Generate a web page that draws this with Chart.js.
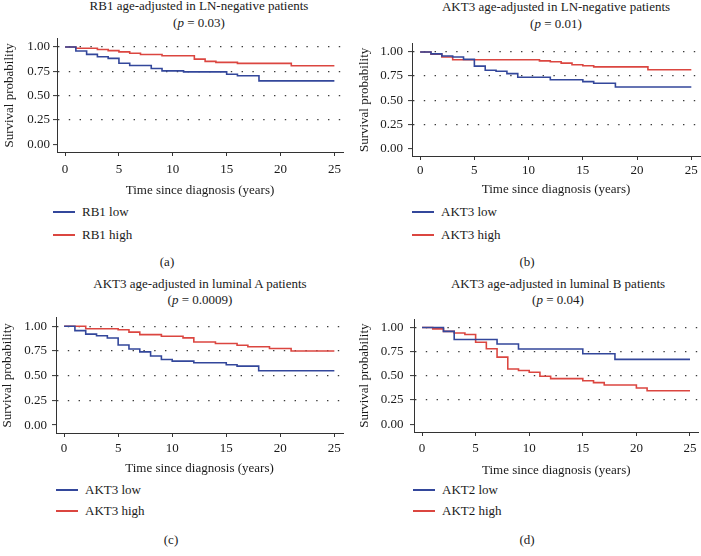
<!DOCTYPE html>
<html>
<head>
<meta charset="utf-8">
<script src="https://cdn.jsdelivr.net/npm/chart.js@4.4.0/dist/chart.umd.min.js"></script>
<style>
    body { margin: 0; background: #fff; }
    #page { position: relative; width: 701px; height: 556px; overflow: hidden; background: #fff;
            font-family: "Liberation Serif", "Times New Roman", serif; color: #1a1a1a; }
    #page canvas { position: absolute; }
    .title, .cap, .leg-text { position: absolute; font-size: 13px; white-space: nowrap; }
    .title { width: 350px; text-align: center; line-height: 16.5px; }
    .cap { width: 40px; text-align: center; line-height: 16px; }
    .leg-text { line-height: 16px; }
    .leg-line { position: absolute; height: 2px; width: 22px; }
</style>
</head>
<body>
<div id="page"></div>
<script>
// tick labels shared by all four panels
const xTicks = [0, 5, 10, 15, 20, 25];
const yTicks = [0, 0.25, 0.5, 0.75, 1];

// (a) RB1, LN-negative
const rb1LowYears = [0, 1, 2, 3, 4, 5, 6, 8, 9, 11, 15, 16, 18, 25];
const rb1LowSurv = [1, 0.96, 0.925, 0.90, 0.884, 0.833, 0.81, 0.78, 0.755, 0.745, 0.72, 0.704, 0.652, 0.652];
const rb1HighYears = [0, 1, 3, 4, 5, 6, 7, 9, 12, 13, 14, 16, 21, 25];
const rb1HighSurv = [1, 0.988, 0.975, 0.963, 0.95, 0.937, 0.924, 0.91, 0.876, 0.853, 0.842, 0.832, 0.807, 0.807];

// (b) AKT3, LN-negative
const akt3NegLowYears = [0, 1, 2, 3, 4, 5, 6, 7, 8, 9, 12, 15, 16, 18, 25];
const akt3NegLowSurv = [1, 0.98, 0.958, 0.948, 0.923, 0.853, 0.81, 0.80, 0.775, 0.737, 0.712, 0.692, 0.675, 0.636, 0.636];
const akt3NegHighYears = [0, 1, 2, 3, 11, 12, 13, 14, 15, 16, 21, 25];
const akt3NegHighSurv = [1, 0.978, 0.948, 0.92, 0.908, 0.898, 0.884, 0.868, 0.857, 0.845, 0.815, 0.815];

// (c) AKT3, luminal A
const akt3LumALowYears = [0, 1, 2, 3, 4, 5, 6, 7, 8, 9, 10, 12, 15, 16, 18, 25];
const akt3LumALowSurv = [1, 0.955, 0.92, 0.904, 0.88, 0.81, 0.77, 0.74, 0.698, 0.664, 0.647, 0.63, 0.61, 0.596, 0.55, 0.55];
const akt3LumAHighYears = [0, 2, 5, 6, 7, 9, 11, 12, 14, 16, 17, 19, 21, 25];
const akt3LumAHighSurv = [1, 0.974, 0.964, 0.94, 0.915, 0.898, 0.882, 0.84, 0.825, 0.808, 0.792, 0.775, 0.749, 0.749];

// (d) AKT2, luminal B
const akt2LumBLowYears = [0, 2, 3, 7, 9, 15, 18, 25];
const akt2LumBLowSurv = [1, 0.96, 0.876, 0.829, 0.778, 0.729, 0.671, 0.671];
const akt2LumBHighYears = [0, 1, 2, 3, 4, 5, 6, 7, 8, 9, 10, 11, 12, 15, 16, 17, 20, 21, 25];
const akt2LumBHighSurv = [1, 0.986, 0.96, 0.944, 0.928, 0.847, 0.78, 0.694, 0.572, 0.555, 0.537, 0.496, 0.472, 0.45, 0.43, 0.406, 0.375, 0.347, 0.347];

const lowColor = "#33479b";
const highColor = "#db4640";
const axisColor = "#333";

Chart.defaults.font.family = '"Liberation Serif", "Times New Roman", serif';
Chart.defaults.font.size = 13;
Chart.defaults.color = "#1a1a1a";

// panel layout: box = canvas, area = wanted chart area, the rest is text placement
const panels = [
    {
        title: "RB1 age-adjusted in LN-negative patients", pValue: "0.03", tag: "(a)",
        labels: ["RB1 low", "RB1 high"],
        low: [rb1LowYears, rb1LowSurv], high: [rb1HighYears, rb1HighSurv],
        box: { x: 0, y: 28, w: 350, h: 172 }, area: { l: 57, t: 35, r: 343, b: 152 },
        titleX: 199, titleY: -2, legX: 53, legY: [212, 235], capX: 167, capY: 262,
        yTitlePad: 2, yTickPad: 3, xTickPad: 6, xTitlePad: 1.5
    },
    {
        title: "AKT3 age-adjusted in LN-negative patients", pValue: "0.01", tag: "(b)",
        labels: ["AKT3 low", "AKT3 high"],
        low: [akt3NegLowYears, akt3NegLowSurv], high: [akt3NegHighYears, akt3NegHighSurv],
        box: { x: 350, y: 31, w: 351, h: 170 }, area: { l: 412, t: 39, r: 700, b: 156 },
        titleX: 556, titleY: -1, legX: 412, legY: [212, 235], capX: 527, capY: 262,
        yTitlePad: 7, yTickPad: 5, xTickPad: 3, xTitlePad: 3.5
    },
    {
        title: "AKT3 age-adjusted in luminal A patients", pValue: "0.0009", tag: "(c)",
        labels: ["AKT3 low", "AKT3 high"],
        low: [akt3LumALowYears, akt3LumALowSurv], high: [akt3LumAHighYears, akt3LumAHighSurv],
        box: { x: 0, y: 305, w: 350, h: 174 }, area: { l: 56, t: 315, r: 343, b: 433 },
        titleX: 200, titleY: 275.5, legX: 56, legY: [490, 511], capX: 171, capY: 539.7,
        yTitlePad: 0, yTickPad: 5, xTickPad: 4, xTitlePad: 2.5
    },
    {
        title: "AKT3 age-adjusted in luminal B patients", pValue: "0.04", tag: "(d)",
        labels: ["AKT2 low", "AKT2 high"],
        low: [akt2LumBLowYears, akt2LumBLowSurv], high: [akt2LumBHighYears, akt2LumBHighSurv],
        box: { x: 350, y: 305, w: 351, h: 175 }, area: { l: 414, t: 315, r: 700, b: 432 },
        titleX: 558, titleY: 275.5, legX: 413, legY: [490, 511], capX: 527, capY: 539.7,
        yTitlePad: 7, yTickPad: 6.5, xTickPad: 4.5, xTitlePad: 2
    }
];

const toPoints = ([years, surv]) => years.map((t, i) => ({ x: t, y: surv[i] }));

function addText(cls, left, top, html) {
    const el = document.createElement("div");
    el.className = cls;
    el.style.left = left + "px";
    el.style.top = top + "px";
    el.innerHTML = html;
    document.getElementById("page").appendChild(el);
    return el;
}

function addPanel(p) {
    const page = document.getElementById("page");

    addText("title", p.titleX - 175, p.titleY, `${p.title}<br>(<i>p</i> = ${p.pValue})`);
    addText("cap", p.capX - 20, p.capY - 8, p.tag);

    // legend below the axis, one row per group
    [lowColor, highColor].forEach((color, i) => {
        const line = document.createElement("div");
        line.className = "leg-line";
        line.style.left = p.legX + "px";
        line.style.top = Math.round(p.legY[i] - 1) + "px";
        line.style.background = color;
        page.appendChild(line);
        addText("leg-text", p.legX + 29, p.legY[i] - 8, p.labels[i]);
    });

    const canvas = document.createElement("canvas");
    canvas.width = p.box.w;
    canvas.height = p.box.h;
    canvas.style.left = p.box.x + "px";
    canvas.style.top = p.box.y + "px";
    page.appendChild(canvas);

    const curve = (label, pts, color) => ({
        label: label,
        data: pts,
        borderColor: color,
        borderWidth: 1.6,
        stepped: "before",
        pointRadius: 0,
        fill: false
    });

    new Chart(canvas, {
        type: "line",
        data: {
            datasets: [
                curve(p.labels[0], toPoints(p.low), lowColor),
                curve(p.labels[1], toPoints(p.high), highColor)
            ]
        },
        options: {
            responsive: false,
            animation: false,
            events: [],
            layout: {
                padding: {
                    top: p.area.t - p.box.y,
                    right: p.box.x + p.box.w - p.area.r,
                    left: 0,
                    bottom: 0
                }
            },
            plugins: { legend: { display: false }, tooltip: { enabled: false } },
            scales: {
                x: {
                    type: "linear",
                    min: -0.75,
                    max: 25.8,
                    afterBuildTicks: (s) => { s.ticks = xTicks.map((v) => ({ value: v })); },
                    afterFit: (s) => { s.height = p.box.y + p.box.h - p.area.b; },
                    ticks: { padding: p.xTickPad, maxRotation: 0, autoSkip: false, callback: (v) => String(v) },
                    grid: { drawOnChartArea: false, drawTicks: true, tickLength: 4, tickColor: axisColor, tickWidth: 1 },
                    border: { color: axisColor, width: 1 },
                    title: { display: true, text: "Time since diagnosis (years)", padding: { top: 0, bottom: p.xTitlePad } }
                },
                y: {
                    type: "linear",
                    min: -0.08,
                    max: 1.085,
                    afterBuildTicks: (s) => { s.ticks = yTicks.map((v) => ({ value: v })); },
                    afterFit: (s) => { s.width = p.area.l - p.box.x; },
                    ticks: { padding: p.yTickPad, callback: (v) => Number(v).toFixed(2) },
                    grid: {
                        color: (c) => (c.tick && c.tick.value > 0 ? "#3a3a3a" : "rgba(0,0,0,0)"),
                        lineWidth: 1.2,
                        drawTicks: true,
                        tickLength: 4,
                        tickColor: axisColor,
                        tickWidth: 1
                    },
                    border: { color: axisColor, width: 1, dash: [1.4, 9.4] },
                    title: { display: true, text: "Survival probability", padding: { top: p.yTitlePad, bottom: 0 } }
                }
            }
        }
    });
}

document.addEventListener("DOMContentLoaded", () => {
    panels.forEach(addPanel);
});
</script>
</body>
</html>
